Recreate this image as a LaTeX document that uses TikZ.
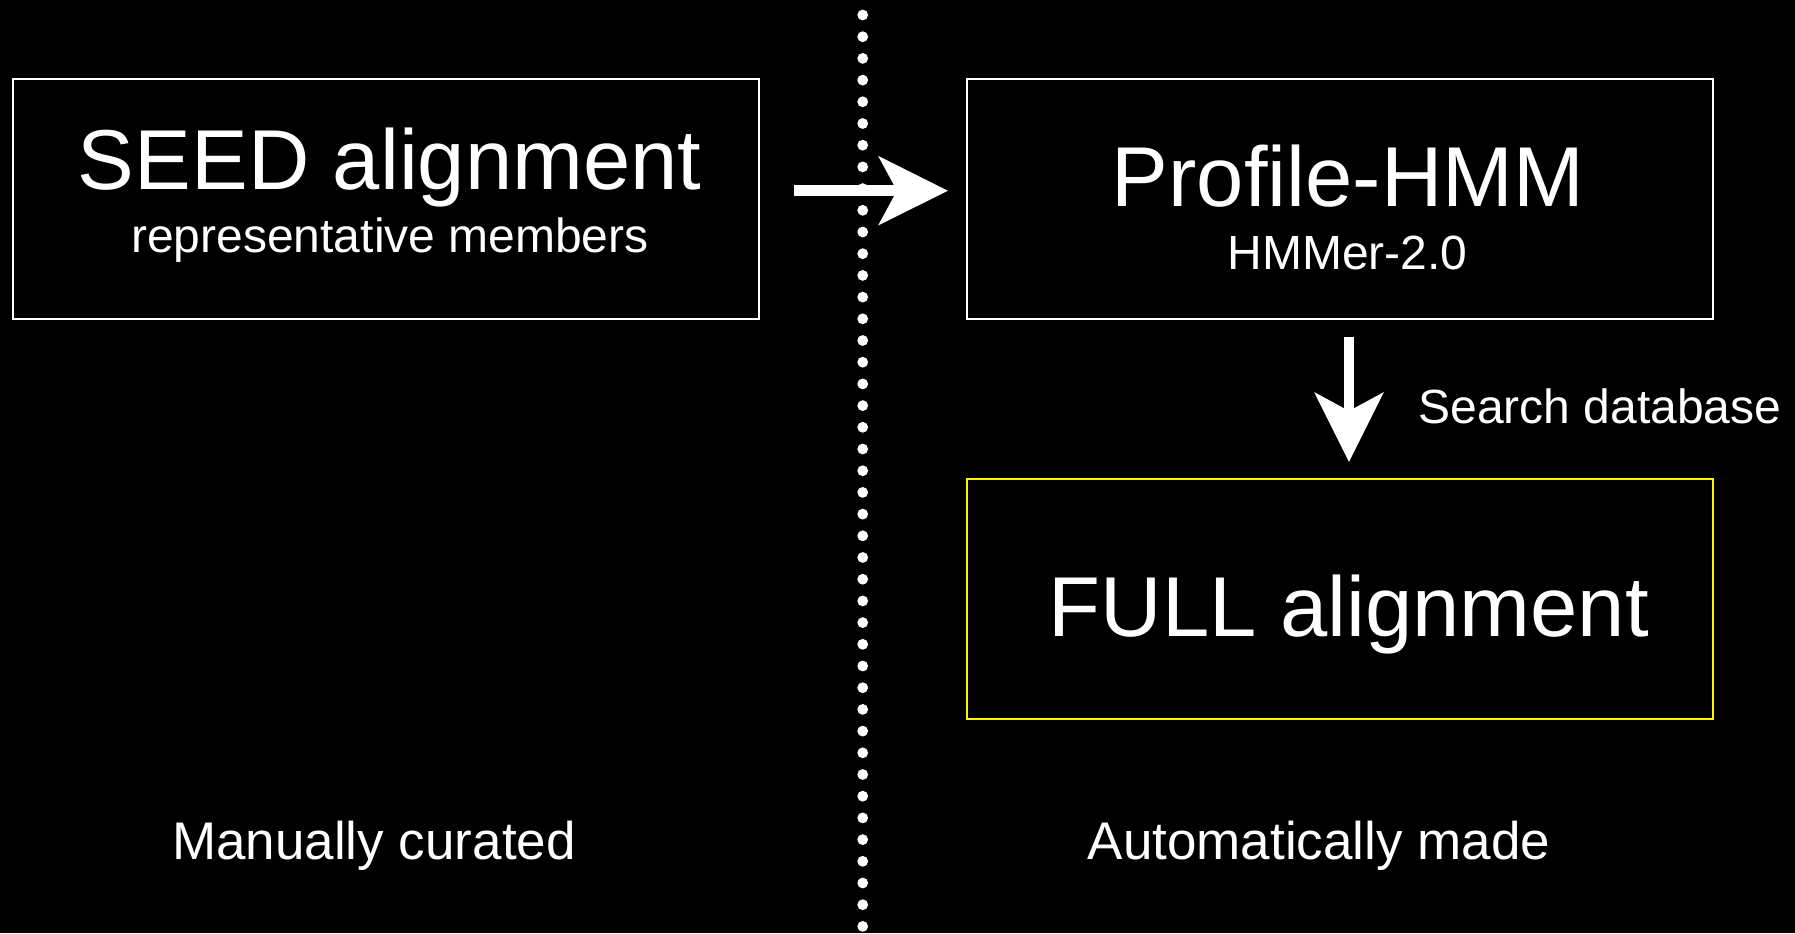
\documentclass[tikz,border=0pt]{standalone}
\usepackage{fontspec}
\setmainfont{Liberation Sans}
\usetikzlibrary{arrows.meta}

\begin{document}
\begin{tikzpicture}[x=0.5pt,y=-0.5pt,
        box/.style={draw=white, line width=1pt, minimum width=373pt, minimum height=120pt, inner sep=0pt},
        big/.style={text=white, inner sep=0pt, anchor=base, font=\fontsize{42.5}{50}\selectfont},
        small/.style={text=white, inner sep=0pt, anchor=base, font=\fontsize{24}{29}\selectfont},
        side/.style={text=white, inner sep=0pt, anchor=base, font=\fontsize{26.5}{32}\selectfont},
        flow/.style={white, line width=5.35pt, -{Stealth[length=34.5pt,width=34pt,inset=9pt]}}]
        \fill[black] (0,0) rectangle (1795,933);
        \useasboundingbox (0,0) rectangle (1795,933);

        % dotted divider
        \foreach \i in {0,...,42} {
            \fill[white] (862.7,15+21.7*\i) circle (2.7pt);
        }

        % boxes
        \node[box] (seed) at (386,198.5) {};
        \node[box] (hmm) at (1340,198.5) {};
        \node[box, draw=yellow] (full) at (1340,599) {};

        \node[big] (seedtitle) at (389.8,189) {SEED alignment};
        \node[small] (seedsub) at (390,252) {representative members};
        \node[big] (hmmtitle) at (1348,206) {Profile-HMM};
        \node[small] (hmmsub) at (1347.5,269) {HMMer-2.0};
        \node[big] (fulltitle) at (1349,636.5) {FULL alignment};

        % arrows
        \draw[flow, shorten <=17pt, shorten >=9pt] ([yshift=3.9pt]seed.east) -- ([yshift=3.9pt]hmm.west);
        \draw[flow, shorten <=8.5pt, shorten >=8pt] ([xshift=4.5pt]hmm.south) -- ([xshift=4.5pt]full.north);
        \node[small, anchor=base west] (search) at (1418,423.6) {Search database};

        \node[side] (manual) at (374,859) {Manually curated};
        \node[side] (auto) at (1319,859) {Automatically made};
    \end{tikzpicture}
\end{document}
